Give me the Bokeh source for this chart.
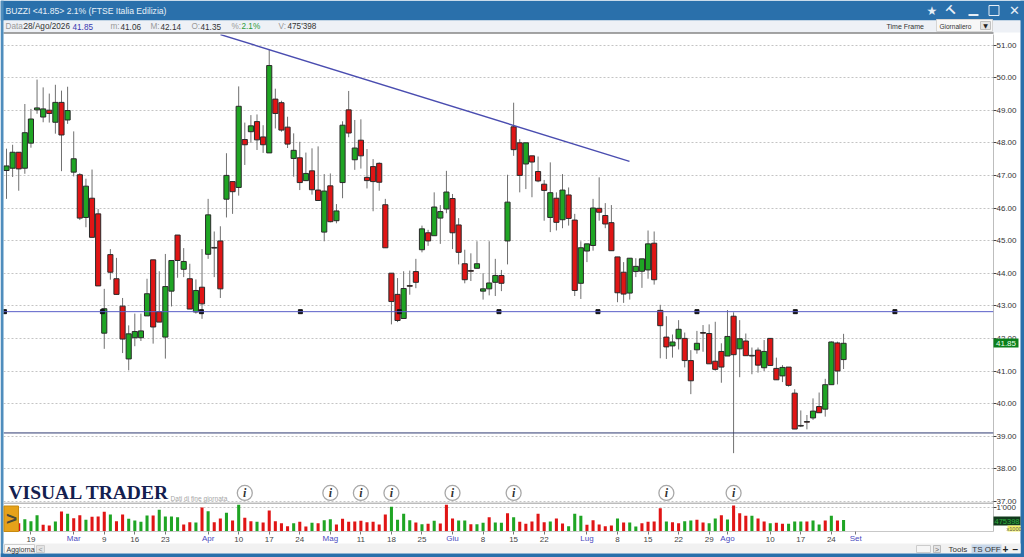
from bokeh.plotting import figure
from bokeh.models import Range1d, FixedTicker, NumeralTickFormatter, ColumnDataSource, Span
from bokeh.core.properties import value
from bokeh.embed import file_html
from bokeh.resources import INLINE

opens = [47.15,47.22,47.71,47.22,47.99,49.01,48.79,49.00,48.63,49.24,48.70,47.10,47.02,45.71,46.30,45.82,42.16,44.57,43.83,42.99,
 41.37,42.02,42.02,42.69,44.41,42.82,42.04,43.45,45.17,44.12,43.83,42.81,43.57,44.58,44.79,44.99,46.27,46.81,46.63,48.10,
 48.34,48.65,48.18,47.69,49.34,49.23,48.48,47.52,47.54,46.84,47.14,46.55,45.26,46.68,45.61,46.78,49.01,47.48,48.08,46.94,
 47.27,47.37,46.10,44.00,43.35,42.61,43.62,44.05,44.72,45.24,45.15,45.69,45.97,46.29,45.48,44.29,44.08,44.15,43.45,43.52,
 43.72,43.93,44.99,48.49,48.00,47.35,47.60,47.12,46.73,45.71,46.30,45.64,46.40,45.63,43.69,44.68,44.85,45.99,45.77,45.55,
 44.50,44.03,43.39,44.05,44.06,44.10,44.92,42.86,42.04,41.77,41.99,42.00,41.32,41.65,42.18,42.15,41.30,41.60,41.46,42.68,
 41.68,41.92,41.48,41.64,41.10,42.00,41.08,40.85,41.12,40.32,39.33,39.45,39.56,39.91,39.83,40.58,41.86,41.35]
highs = [47.82,47.94,47.71,49.19,49.04,49.94,49.70,49.51,49.78,49.60,49.72,48.35,47.07,46.90,47.18,45.97,43.52,44.74,44.47,43.24,
 42.40,42.76,42.76,43.83,44.41,44.06,44.59,44.39,45.17,44.77,44.29,43.81,44.74,46.28,45.28,45.44,47.68,46.81,49.73,48.62,
 48.85,48.87,48.54,50.85,49.66,49.29,48.80,48.29,48.03,47.70,47.83,47.89,47.04,47.06,46.12,48.66,49.59,48.70,48.72,47.81,
 47.50,47.40,46.28,44.00,43.85,44.06,44.08,44.44,45.46,45.33,46.48,46.09,47.14,46.43,45.69,44.72,44.61,44.98,44.00,44.98,
 44.44,44.10,47.02,49.23,48.11,48.00,47.60,47.58,46.86,47.40,46.48,47.04,46.63,45.82,44.98,44.90,46.28,46.94,46.15,46.09,
 44.50,44.34,44.46,44.46,44.44,45.31,45.28,43.03,42.68,42.12,42.56,42.18,41.64,42.23,42.41,42.43,42.51,41.85,42.87,42.80,
 42.56,42.15,41.72,41.72,41.95,42.00,41.41,41.18,41.12,40.44,39.79,39.65,40.16,40.34,40.76,41.91,41.90,42.14]
lows = [46.28,46.95,46.53,47.05,47.85,48.89,48.63,48.62,48.28,47.13,48.58,46.97,45.63,45.41,45.10,43.61,41.68,43.80,43.35,41.55,
 41.02,41.76,41.92,42.69,41.84,42.50,41.38,42.98,43.86,43.88,42.90,42.76,42.60,44.44,43.88,43.24,45.71,45.82,46.38,47.32,
 48.00,47.78,47.69,47.69,48.44,48.34,47.84,46.96,46.55,46.84,46.41,46.23,44.98,45.56,45.53,46.30,48.17,47.17,47.21,46.60,
 45.90,46.53,44.78,42.43,42.50,42.61,43.34,43.54,44.64,44.84,45.15,44.90,45.84,44.74,44.27,43.69,43.76,44.15,43.19,43.32,
 43.30,43.45,44.27,47.60,46.48,46.58,46.33,46.79,45.61,45.26,45.31,45.38,45.46,43.30,43.21,44.34,44.69,45.61,45.38,44.69,
 43.11,43.09,43.19,43.88,43.55,43.83,43.65,41.39,41.37,41.41,41.66,41.11,40.29,41.53,41.59,41.22,41.01,40.64,41.46,38.48,
 40.81,41.47,40.90,40.95,41.00,41.17,40.73,40.66,40.52,39.22,39.28,39.21,39.50,39.72,39.60,40.58,40.59,41.06]
closes = [47.29,47.71,47.20,48.31,48.73,49.07,49.04,48.90,49.24,48.24,48.99,47.51,45.69,46.67,45.10,43.61,42.91,44.03,43.35,41.98,
 42.14,42.21,42.23,43.37,42.35,42.50,43.59,44.39,44.39,44.36,42.90,43.47,43.06,45.79,44.77,43.52,47.00,46.50,49.12,47.94,
 48.52,48.09,47.94,50.37,48.90,48.39,47.96,47.77,46.78,47.06,46.56,46.23,46.52,45.58,45.91,48.54,48.30,47.84,47.60,46.84,
 46.81,46.79,44.78,43.13,42.55,43.53,43.60,43.72,45.36,44.99,46.03,45.89,46.49,45.24,44.64,43.80,44.06,44.29,43.52,43.70,
 43.93,43.69,46.18,47.79,47.00,48.00,47.41,46.83,46.54,46.47,45.56,46.55,45.68,43.47,44.78,44.90,46.00,45.87,45.51,44.69,
 43.40,43.36,44.46,44.21,44.44,44.90,43.80,42.39,41.74,41.89,42.28,41.32,40.70,41.85,42.16,41.22,41.05,41.12,42.06,41.50,
 41.99,41.47,41.46,41.18,41.60,41.17,40.73,41.11,40.56,39.22,39.31,39.43,39.77,39.72,40.58,41.89,41.00,41.85]

volumes = [300,420,338,507,422,676,268,239,408,831,732,549,676,479,605,620,817,704,422,704,521,451,394,662,662,901,620,620,591,282,
 380,366,1000,845,380,535,774,451,1112,563,422,394,366,873,422,338,211,338,394,197,352,338,465,507,282,521,394,408,436,380,
 394,282,704,1028,479,732,465,366,296,310,436,324,1112,535,451,451,296,296,352,591,366,352,760,591,394,310,408,732,380,408,
 535,324,211,732,648,268,465,282,211,239,535,366,366,197,338,394,408,972,408,380,338,422,451,479,366,338,535,676,493,1084,
 760,648,648,535,408,338,352,310,310,408,408,408,451,282,451,648,451,475]
volume_dirs = "rrrgggrrgrgrrgrrrgrrggggrggggrrgrgrrgrgrrgrrrrrgrrgrgg" \
              "rrrrrrrrrgggg" "rgrgrrrggrggrggrgrrrrrgrrgggrrrrrgrggrrrrg" \
              "rrggrrggrgrrrgrrgrrggg" "rggrgr" "g"

day_ticks = [4,16,21,26,38,43,48,58,63,68,78,83,88,100,105,110,115,125,130,135]
day_labels = ["19","9","16","23","10","17","24","11","18","25","8","15","22","8","15","22","29","10","17","24"]
month_ticks = [11,33,53,73,95,118,139]
month_labels = ["Mar","Apr","Mag","Giu","Lug","Ago","Set"]
price_ticks = [37,38,39,40,41,42,43,44,45,46,47,48,49,50,51]
level_high = 42.82
level_low = 39.10
level_handles = [-0.33,15.7,31.9,48.1,64.3,80.6,96.8,113.0,129.1,145.4]
trend_idx = [35.02,101.96]
trend_price = [51.32,47.43]
event_idx = [39,53,58,63,73,83,108,119]
event_price = [37.26]*len(event_idx)

W, H = 1024, 557
FL, FR = 3, 993
PT, PB = 34, 503
VB = 531
VOL_TOP = 495
PRICE_H = 510
x_range = Range1d((FL-6)/6.11, (FR-6)/6.11)

GREEN, RED = "#1fa524", "#e01515"
BLUE_BAR = "#2a70ab"

price = figure(width=W, height=PRICE_H, x_range=x_range, y_range=Range1d(51-(PB-44.5)/32.6, 51+(44.5-PT)/32.6),
               output_backend="svg", toolbar_location=None, min_border_left=FL, min_border_right=W-FR,
               min_border_top=PT, min_border_bottom=PRICE_H-PB, x_axis_location=None, y_axis_location="right",
               background_fill_color="#ffffff", border_fill_color="#ffffff", outline_line_color=None)
ax = price.yaxis[0]
ax.ticker = FixedTicker(ticks=price_ticks)
ax.formatter = NumeralTickFormatter(format="0.00")
ax.major_tick_out = 3; ax.major_tick_in = 0; ax.minor_tick_line_color = None
ax.major_tick_line_color = "#444444"; ax.axis_line_color = "#bdbdbd"
ax.major_label_text_font = "Liberation Sans"; ax.major_label_text_font_size = "8px"
ax.major_label_text_color = "#333333"; ax.major_label_standoff = 0
price.xgrid.visible = False
price.ygrid.ticker = FixedTicker(ticks=price_ticks)
price.ygrid.grid_line_color = "#c4c4c4"; price.ygrid.grid_line_dash = "2 2"

idx = list(range(len(opens)))
colors = [GREEN if c >= o else RED for o, c in zip(opens, closes)]
src = ColumnDataSource(dict(x=idx, o=opens, h=highs, l=lows, c=closes, col=colors))
price.segment("x", "h", "x", "l", source=src, line_color="#707070", line_width=1)
price.vbar("x", 0.84, "o", "c", source=src, fill_color="col", line_color="#2a2a2a", line_width=1)
price.add_layout(Span(location=level_high, dimension="width", line_color="#5a5ec8", line_width=1))
price.add_layout(Span(location=level_low, dimension="width", line_color="#2f3a70", line_width=1))
price.line(trend_idx, trend_price, line_color="#4a4db0", line_width=1.4)
price.scatter(level_handles, [level_high]*len(level_handles), marker="square", size=4, fill_color="#111111", line_color="#111111")
price.scatter(event_idx, event_price, marker="circle", size=15, fill_color="#ffffff", line_color="#a8a8a8", line_width=1.3)
price.text(event_idx, event_price, text=["i"]*len(event_idx), text_font=value("Liberation Serif"), text_font_style="bold italic",
           text_font_size="12px", text_color="#333333", text_align="center", text_baseline="middle")

def vol_figure():
    f = figure(width=W, height=H-VOL_TOP, x_range=x_range, y_range=Range1d(-(VB-530.7)/23.7*1000, (530.7-PB)/23.7*1000),
               output_backend="svg", toolbar_location=None, min_border_left=FL, min_border_right=W-FR,
               min_border_top=PB-VOL_TOP, min_border_bottom=H-VB, y_axis_location="right",
               border_fill_color=None, outline_line_color=None)
    f.xgrid.visible = False
    xa = f.xaxis[0]
    xa.major_tick_out = 3; xa.major_tick_in = 0; xa.minor_tick_line_color = None
    xa.major_tick_line_color = "#777777"; xa.axis_line_color = "#c8c8c8"
    xa.major_label_text_font = "Liberation Sans"; xa.major_label_text_font_size = "8px"
    xa.major_label_standoff = 2
    return f

vol = vol_figure()
vol.background_fill_color = "#ffffff"
vol_colors = [GREEN if d == "g" else RED for d in volume_dirs]
vol_src = ColumnDataSource(dict(x=idx, v=volumes, col=vol_colors))
vol.vbar("x", 0.5, 0, "v", source=vol_src, fill_color="col", line_color=None)
va = vol.yaxis[0]
va.ticker = FixedTicker(ticks=[1000])
va.major_label_overrides = {1000: "1'000"}
va.major_tick_out = 3; va.major_tick_in = 0; va.minor_tick_line_color = None
va.major_tick_line_color = "#444444"; va.axis_line_color = "#bdbdbd"
va.major_label_text_font = "Liberation Sans"; va.major_label_text_font_size = "8px"
va.major_label_text_color = "#333333"; va.major_label_standoff = 0
vol.xaxis[0].ticker = FixedTicker(ticks=day_ticks)
vol.xaxis[0].major_label_overrides = dict(zip(day_ticks, day_labels))
vol.xaxis[0].major_label_text_color = "#444444"
vol.ygrid.ticker = FixedTicker(ticks=[1000])
vol.ygrid.grid_line_color = "#c4c4c4"; vol.ygrid.grid_line_dash = "2 2"

months = vol_figure()
months.background_fill_color = None
months.ygrid.visible = False
months.yaxis[0].visible = False
months.xaxis[0].ticker = FixedTicker(ticks=month_ticks)
months.xaxis[0].major_label_overrides = dict(zip(month_ticks, month_labels))
months.xaxis[0].major_label_text_color = "#4a4ac0"
months.xaxis[0].axis_line_color = None
months.xaxis[0].major_label_standoff = -1

chrome = figure(width=W, height=H, x_range=Range1d(0, W), y_range=Range1d(H, 0), output_backend="svg",
                toolbar_location=None, min_border=0, x_axis_location=None, y_axis_location=None,
                border_fill_color=None, background_fill_color=None, outline_line_color=None)
chrome.grid.visible = False

def box(l, r, t, b, color, line=None):
    chrome.quad(left=[l], right=[r], top=[t], bottom=[b], fill_color=color, fill_alpha=1 if color else 0,
                line_color=line, line_alpha=1 if line else 0, line_width=1)

def label(x, y, text, color="#333333", size=8, font="Liberation Sans", align="left", style="normal", angle=0):
    chrome.text([x], [y], text=[text], text_color=color, text_font_size=f"{size}px", text_font=value(font),
                text_font_style=style, text_align=align, text_baseline="middle", angle=angle)

box(0, W, 0, 20, BLUE_BAR)
box(3, 1020, 20, 32, "#eef1f6")
box(3, 993, 32, 33, "#4a4a4a")
box(0, 3, 0, H, "#4f8dbd")
box(1020, W, 0, H, BLUE_BAR)
label(5, 10.5, "BUZZI <41.85>  2.1%  (FTSE Italia Edilizia)", "#e8f0f8", 8.6)
inf = [(5,"Data:","#999999"),(23,"28/Ago/2026","#333333"),(66,":","#999999"),(72,"41.85","#3a3ab0"),
       (110,"m:","#999999"),(120,"41.06","#333333"),(150,"M:","#999999"),(160,"42.14","#333333"),
       (191,"O:","#999999"),(200,"41.35","#333333"),(231,"%:","#999999"),(241,"2.1%","#2a9a3a"),
       (278,"V:","#999999"),(287,"475'398","#333333")]
for x, t, c in inf:
    label(x, 26.3, t, c, 8.2)
label(886, 26, "Time Frame", "#333333", 7)
box(936, 992, 19, 31, "#f7f7f7", "#d5d5d5")
label(939, 25.5, "Giornaliero", "#333333", 6.5)
box(980, 990, 21, 29, "#e4e4e4", "#c0c0c0")
label(985, 25, "▼", "#222222", 6, "DejaVu Sans", "center")
label(931.5, 10, "★", "#e6eef6", 12, "DejaVu Sans", "center")
label(951, 10, "T", "#e6eef6", 13, "Liberation Sans", "center", "bold", 0.8)
box(968, 978, 13.5, 15.5, "#e6eef6")
box(988.5, 998.5, 5, 15, None, "#e6eef6")
label(1014, 10, "✕", "#e6eef6", 13, "DejaVu Sans", "center")
box(FR, 1018, 338, 347, "#0c7f1c")
label(1005.5, 342.7, "41.85", "#e8ffe8", 8, "Liberation Sans", "center")
label(8, 491.5, "VISUAL TRADER", "#14204f", 19.5, "Liberation Serif", "left", "bold")
label(170, 498, "Dati di fine giornata", "#a6a6a6", 6.6)
box(3, 993, PB-1, PB+0.5, "#bdbdbd")
box(3.5, 18, 505.5, 531, "#e6a21a", "#c88a10")
label(11, 518, ">", "#4a4a3a", 19, "Liberation Sans", "center", "bold")
box(3, 1020, 543, 553, "#f1f1f1")
box(0, W, 553, H, BLUE_BAR)
box(4, 34, 544, 552.5, "#fafafa", "#cfcfcf")
label(6, 548.5, "Aggiorna", "#333333", 7)
box(36, 44, 545, 552, "#e4e4e4", "#cccccc")
label(40, 548.5, "<", "#888888", 7, "Liberation Sans", "center")
box(916, 930, 545, 552, "#f5f5f5", "#cccccc")
box(933, 940, 545, 552, "#e4e4e4", "#bbbbbb")
label(936.5, 548.5, ">", "#666666", 7, "Liberation Sans", "center")
label(948, 548.5, "Tools", "#333333", 8)
box(971, 1001, 544, 552.5, "#c8d8ea")
label(986, 548.5, "TS OFF", "#333333", 8, "Liberation Sans", "center")
label(1005, 548.5, "+", "#222222", 10, "Liberation Sans", "center", "bold")
label(1015, 548, "−", "#222222", 10, "Liberation Sans", "center", "bold")
box(FR, 1020, 516, 525, "#123a1c")
label(1006.5, 520.7, "475398", "#2fae3f", 7.5, "Liberation Sans", "center")
box(1007, 1020, 525, 531, "#f3f06a")
label(1013.5, 528, "x1000", "#555555", 5.5, "Liberation Sans", "center")

price.styles = {"position": "absolute", "left": "0px", "top": "0px"}
vol.styles = {"position": "absolute", "left": "0px", "top": f"{VOL_TOP}px"}
months.styles = {"position": "absolute", "left": "0px", "top": f"{VOL_TOP}px"}
chrome.styles = {"position": "absolute", "left": "0px", "top": "0px"}
open("out.html", "w").write(file_html([price, vol, months, chrome], INLINE))
